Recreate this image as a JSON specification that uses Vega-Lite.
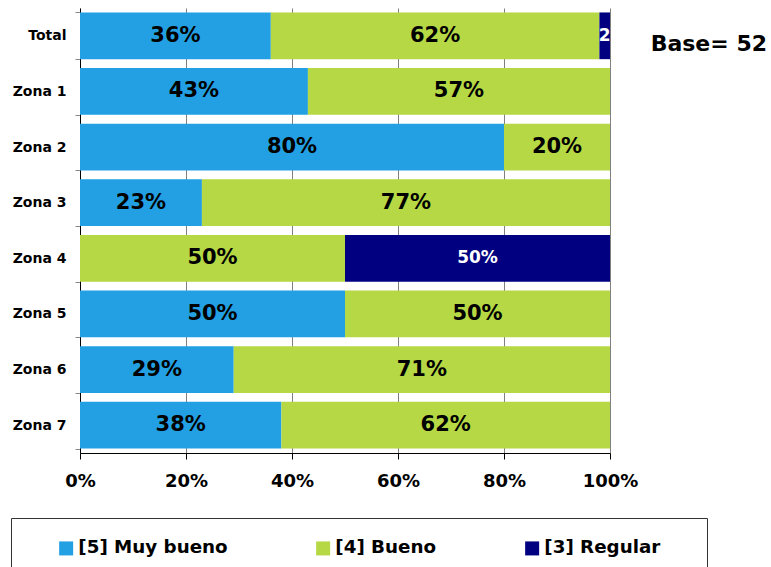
{
  "$schema": "https://vega.github.io/schema/vega-lite/v6.json",
  "width": 530,
  "height": 445,
  "autosize": {"type": "none"},
  "padding": {"left": 80, "top": 8, "right": 161, "bottom": 114},
  "background": "white",
  "title": {"text": "Base= 52", "orient": "top", "anchor": "end", "frame": "group", "font": "DejaVu Sans", "fontSize": 22, "fontWeight": "bold", "color": "black", "baseline": "middle", "offset": 0, "dx": 157, "dy": 65},
  "data": {"values": [
    {"zona": "Total", "cat": "[5] Muy bueno", "value": 36, "label": "36%"},
    {"zona": "Total", "cat": "[4] Bueno", "value": 62, "label": "62%"},
    {"zona": "Total", "cat": "[3] Regular", "value": 2, "label": "2"},
    {"zona": "Zona 1", "cat": "[5] Muy bueno", "value": 43, "label": "43%"},
    {"zona": "Zona 1", "cat": "[4] Bueno", "value": 57, "label": "57%"},
    {"zona": "Zona 2", "cat": "[5] Muy bueno", "value": 80, "label": "80%"},
    {"zona": "Zona 2", "cat": "[4] Bueno", "value": 20, "label": "20%"},
    {"zona": "Zona 3", "cat": "[5] Muy bueno", "value": 23, "label": "23%"},
    {"zona": "Zona 3", "cat": "[4] Bueno", "value": 77, "label": "77%"},
    {"zona": "Zona 4", "cat": "[4] Bueno", "value": 50, "label": "50%"},
    {"zona": "Zona 4", "cat": "[3] Regular", "value": 50, "label": "50%"},
    {"zona": "Zona 5", "cat": "[5] Muy bueno", "value": 50, "label": "50%"},
    {"zona": "Zona 5", "cat": "[4] Bueno", "value": 50, "label": "50%"},
    {"zona": "Zona 6", "cat": "[5] Muy bueno", "value": 29, "label": "29%"},
    {"zona": "Zona 6", "cat": "[4] Bueno", "value": 71, "label": "71%"},
    {"zona": "Zona 7", "cat": "[5] Muy bueno", "value": 38, "label": "38%"},
    {"zona": "Zona 7", "cat": "[4] Bueno", "value": 62, "label": "62%"}
  ]},
  "transform": [
    {"stack": "value", "groupby": ["zona"], "sort": [{"field": "cat", "order": "descending"}], "as": ["v0", "v1"]},
    {"calculate": "(datum.v0 + datum.v1) / 2", "as": "mid"}
  ],
  "encoding": {
    "y": {
      "field": "zona", "type": "nominal",
      "sort": ["Total", "Zona 1", "Zona 2", "Zona 3", "Zona 4", "Zona 5", "Zona 6", "Zona 7"],
      "scale": {"paddingInner": 0.16, "paddingOuter": 0.08},
      "axis": {"title": null, "domainColor": "black", "tickBand": "extent", "tickColor": "#888888", "tickSize": 5, "labelPadding": 9, "labelFont": "DejaVu Sans", "labelFontSize": 14, "labelFontWeight": "bold", "labelColor": "black"}
    }
  },
  "layer": [
    {
      "mark": {"type": "bar"},
      "encoding": {
        "x": {"field": "v0", "type": "quantitative", "scale": {"domain": [0, 100]},
          "axis": {"title": null, "values": [0, 20, 40, 60, 80, 100], "labelExpr": "datum.value + '%'", "grid": true, "gridColor": "#808080", "domainColor": "black", "tickColor": "black", "tickSize": 6, "labelPadding": 13, "labelFont": "DejaVu Sans", "labelFontSize": 18, "labelFontWeight": "bold", "labelColor": "black", "labelFlush": false}},
        "x2": {"field": "v1"},
        "color": {
          "field": "cat", "type": "nominal",
          "scale": {"domain": ["[5] Muy bueno", "[4] Bueno", "[3] Regular"], "range": ["#22A0E3", "#B5D844", "#000080"]},
          "legend": {"orient": "none", "legendX": -69, "legendY": 510, "direction": "horizontal", "columns": 3, "columnPadding": 61, "symbolType": "square", "symbolSize": 196, "symbolStrokeWidth": 0, "symbolOffset": 25, "labelOffset": 3, "labelFont": "DejaVu Sans", "labelFontSize": 18.3, "labelFontWeight": "bold", "labelColor": "black", "labelLimit": 300, "padding": 21, "strokeColor": "#333333", "fillColor": "white", "title": "\u00a0", "titleOrient": "right", "titlePadding": 26, "titleFontSize": 10}
        }
      }
    },
    {
      "mark": {"type": "text", "font": "DejaVu Sans", "fontWeight": "bold"},
      "encoding": {
        "x": {"field": "mid", "type": "quantitative"},
        "text": {"field": "label"},
        "color": {"condition": {"test": "datum.cat === '[3] Regular'", "value": "white"}, "value": "black"},
        "size": {"condition": {"test": "datum.cat === '[3] Regular'", "value": 17}, "value": 21}
      }
    }
  ],
  "config": {"view": {"stroke": null}}
}
